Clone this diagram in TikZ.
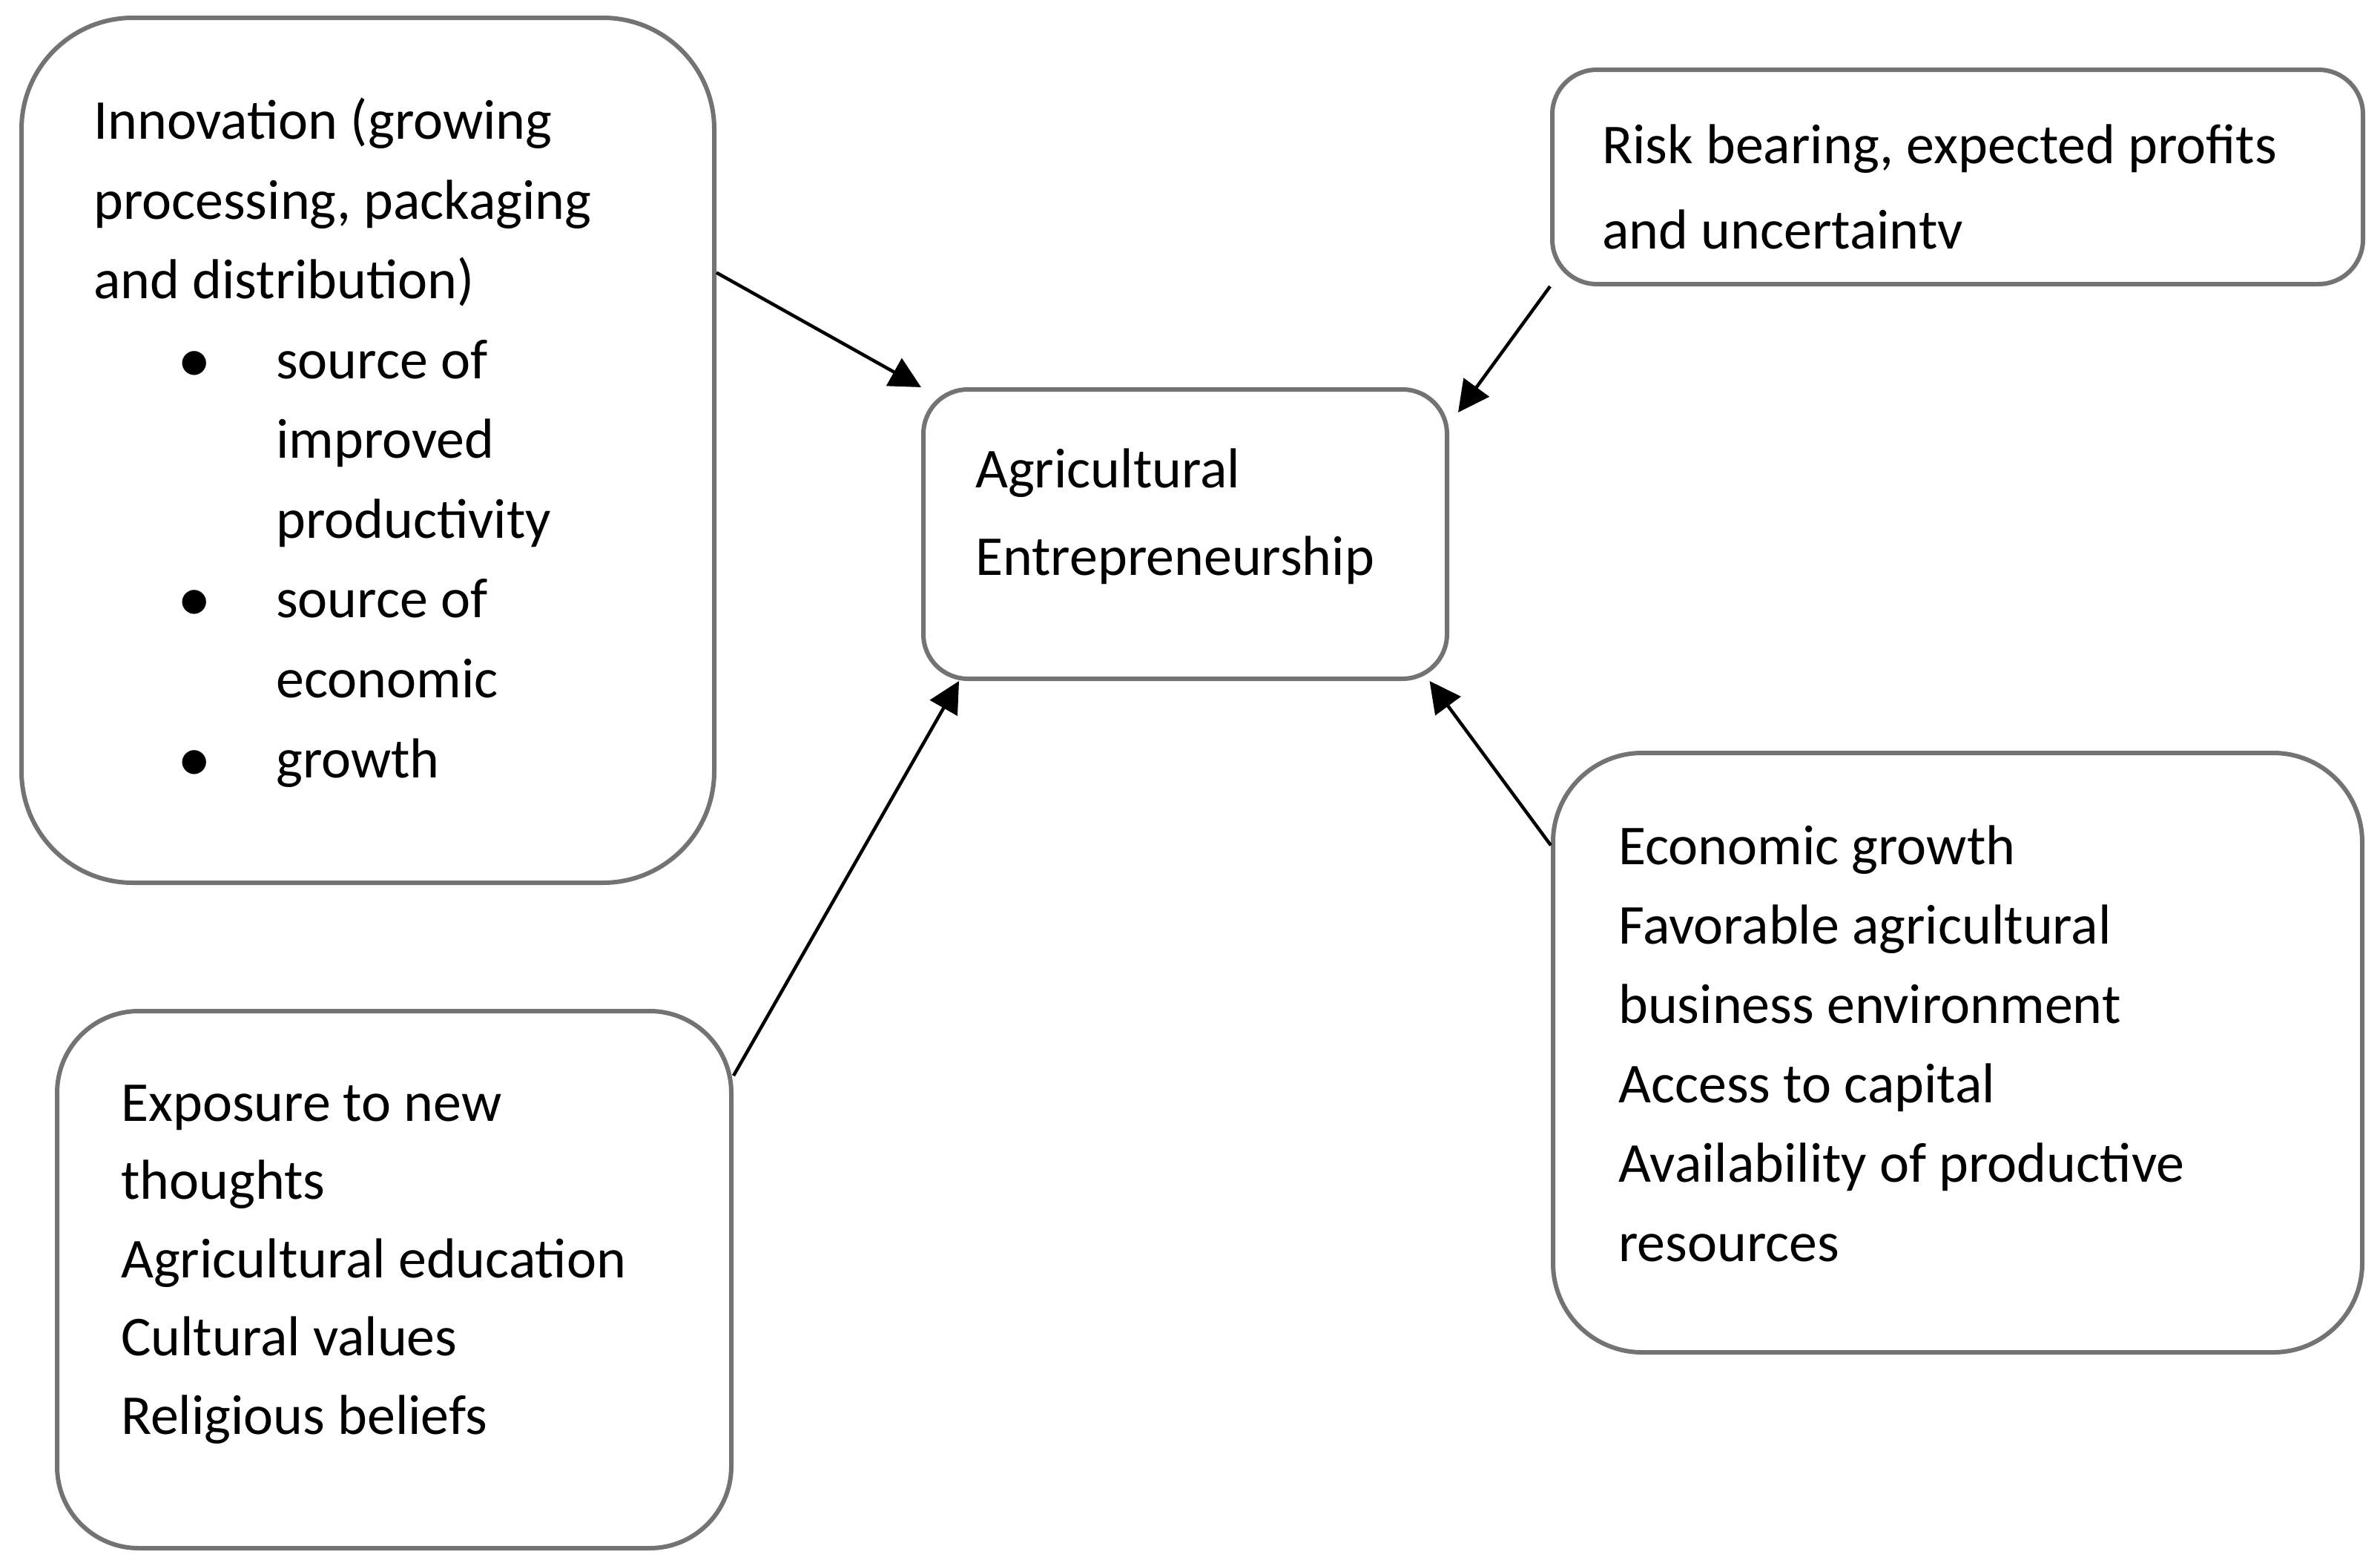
\documentclass[tikz,border=0pt]{standalone}
\usepackage{fontspec}
\setmainfont{Carlito}
\usepackage{tikz}
\usetikzlibrary{positioning}
\usetikzlibrary{arrows.meta}

\definecolor{boxgray}{RGB}{115,115,115}
\newcommand{\itemdot}{\makebox[2.46cm][l]{\hspace{1.13cm}\raisebox{-0.05cm}{\fontsize{26pt}{26pt}\selectfont •}}}
\newcommand{\itemgap}{\hspace*{2.46cm}}

\begin{document}
\begin{tikzpicture}[
            > = {Triangle[length=4.2mm, width=4.2mm]}, % arrow head style
            shorten > = 0pt,
            line width = 0.45mm % line style
        ]

        \tikzstyle{box}=[
            draw = boxgray,
            line width = 0.6mm,
            fill = white,
            inner sep = 0pt
        ]
        % text sits on the baseline of its last line
        \tikzstyle{txt}=[
            anchor = base west,
            align = left,
            inner sep = 0pt,
            font = \fontsize{21.6pt}{30.6pt}\selectfont
        ]

        \useasboundingbox (0,0) rectangle (32.09,-21.07);

	% central node
        \node[box, rounded corners = 6mm, minimum width = 7.06cm, minimum height = 3.90cm] (agri) at (15.98,-7.20) {};
        \node[txt, font = \fontsize{21.6pt}{33.5pt}\selectfont] (agritext) at (13.13,-7.75) {Agricultural\\Entrepreneurship};

	% innovation
        \node[box, rounded corners = 15mm, minimum width = 9.34cm, minimum height = 11.66cm] (inno) at (4.96,-6.07) {};
        \node[txt] (innotext) at (1.24,-10.48) {Innovation (growing\\
            processing, packaging\\
            and distribution)\\
            \itemdot source of\\
            \itemgap improved\\
            \itemgap productivity\\
            \itemdot source of\\
            \itemgap economic\\
            \itemdot growth};

        \path[->] (inno.27.5) edge node {} (agri.north west);

	% risk
        \node[box, rounded corners = 6mm, minimum width = 10.93cm, minimum height = 2.89cm] (risk) at (26.395,-2.385) {};
        \node[txt, font = \fontsize{21.6pt}{32.7pt}\selectfont] (risktext) at (21.58,-3.35) {Risk bearing, expected profits\\and uncertaintv};

        \path[->] (risk.south west) edge node {} ([xshift=1.2mm, yshift=-3.4mm]agri.north east);

	% exposure
        \node[box, rounded corners = 11mm, minimum width = 9.09cm, minimum height = 7.24cm] (expo) at (5.315,-17.25) {};
        \node[txt, font = \fontsize{21.6pt}{30.0pt}\selectfont] (expotext) at (1.61,-19.33) {Exposure to new\\
            thoughts\\
            Agricultural education\\
            Cultural values\\
            Religious beliefs};

        \path[->] (expo.31.9) edge node {} (agri.213.8);

	% economic environment
        \node[box, rounded corners = 12mm, minimum width = 10.91cm, minimum height = 8.08cm] (econ) at (26.395,-14.19) {};
        \node[txt, font = \fontsize{21.6pt}{30.4pt}\selectfont] (econtext) at (21.80,-17.00) {Economic growth\\
            Favorable agricultural\\
            business environment\\
            Access to capital\\
            Availability of productive\\
            resources};

        \path[->] (econ.153.2) edge node {} (agri.329.5);

  \end{tikzpicture}
\end{document}
